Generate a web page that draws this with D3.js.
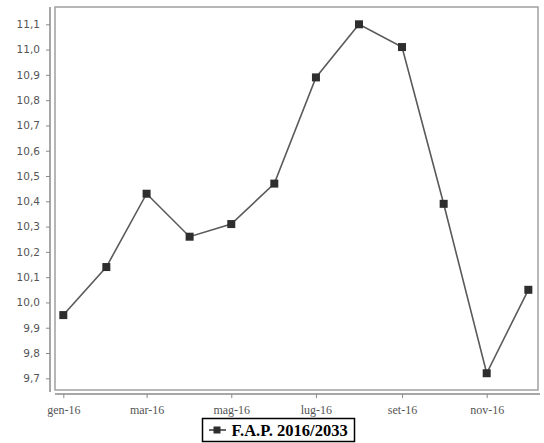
<!DOCTYPE html>
<html><head><meta charset="utf-8">
<script src="https://cdn.jsdelivr.net/npm/d3@7"></script>
<style>body{margin:0;background:#fff}</style>
</head><body>
<svg id="c" width="544" height="443"></svg>
<script>
const months = ["2016-01-01","2016-02-01","2016-03-01","2016-04-01","2016-05-01","2016-06-01","2016-07-01","2016-08-01","2016-09-01","2016-10-01","2016-11-01","2016-12-01"];
const values = [9.95,10.14,10.43,10.26,10.31,10.47,10.89,11.10,11.01,10.39,9.72,10.05];
const yTicks = [9.7,9.8,9.9,10.0,10.1,10.2,10.3,10.4,10.5,10.6,10.7,10.8,10.9,11.0,11.1];
const xTickDates = ["2016-01-01","2016-03-01","2016-05-01","2016-07-01","2016-09-01","2016-11-01"];
const monthNames = ["gen","feb","mar","apr","mag","giu","lug","ago","set","ott","nov","dic"];
const seriesName = "F.A.P. 2016/2033";

const parse = d3.utcParse("%Y-%m-%d");
const data = months.map((m,i)=>({d:parse(m), v:values[i]}));
const svg = d3.select("#c");

const box = {l:55, t:7, r:538, b:390};
const x = d3.scaleUtc()
  .domain([parse("2016-01-01"), parse("2016-11-01")])
  .range([63.3, 486.7]);
const y = d3.scaleLinear().domain([9.7, 11.1]).range([378.3, 24.3]);

// plot box
svg.append("rect").attr("x",box.l).attr("y",box.t).attr("width",box.r-box.l).attr("height",box.b-box.t)
  .attr("fill","#fff").attr("stroke","#a0a0a0").attr("stroke-width",1.5);

// y axis
const yAxis = d3.axisLeft(y).tickValues(yTicks).tickSize(4).tickPadding(6)
  .tickFormat(d=>d3.format(".1f")(d).replace(".",","));
const gy = svg.append("g").attr("transform","translate(50,0)").call(yAxis);
gy.select(".domain").attr("d","M0,7V392").attr("stroke","#8a8a8a").attr("stroke-width",1.5);
gy.selectAll(".tick line").attr("stroke","#8a8a8a");
gy.selectAll("text").attr("fill","#555").style("font-family","'DejaVu Sans', Verdana, sans-serif").style("font-size","10.5px");

// x axis
const xAxis = d3.axisBottom(x).tickValues(xTickDates.map(parse)).tickSize(4).tickPadding(7)
  .tickFormat(d=>monthNames[d.getUTCMonth()]+"-"+String(d.getUTCFullYear()).slice(2));
const gx = svg.append("g").attr("transform","translate(0,394)").call(xAxis);
gx.select(".domain").attr("d","M55,0H540").attr("stroke","#8a8a8a").attr("stroke-width",1.5);
gx.selectAll(".tick line").attr("stroke","#8a8a8a");
gx.selectAll("text").attr("fill","#555").style("font-family","'Liberation Serif','DejaVu Serif',serif").style("font-size","12px");

// line
svg.append("path").datum(data)
  .attr("d", d3.line().x(d=>x(d.d)).y(d=>y(d.v)))
  .attr("fill","none").attr("stroke","#5a5a5a").attr("stroke-width",1.6);

// markers
svg.selectAll("rect.m").data(data).join("rect").attr("class","m")
  .attr("x",d=>x(d.d)-4).attr("y",d=>y(d.v)-4).attr("width",8).attr("height",8)
  .attr("fill","#2e2e2e");

// legend
const lg = svg.append("g");
lg.append("rect").attr("x",202.5).attr("y",418.5).attr("width",152).attr("height",23)
  .attr("fill","#fff").attr("stroke","#000").attr("stroke-width",1.5);
lg.append("line").attr("x1",209).attr("x2",226).attr("y1",430).attr("y2",430).attr("stroke","#333").attr("stroke-width",1.5);
lg.append("rect").attr("x",213.5).attr("y",426.5).attr("width",7).attr("height",7).attr("fill","#2e2e2e");
lg.append("text").attr("x",231.5).attr("y",436).text(seriesName)
  .style("font-family","'Liberation Serif','DejaVu Serif',serif").style("font-size","16.5px").style("font-weight","bold").attr("fill","#000");
</script>
</body></html>
